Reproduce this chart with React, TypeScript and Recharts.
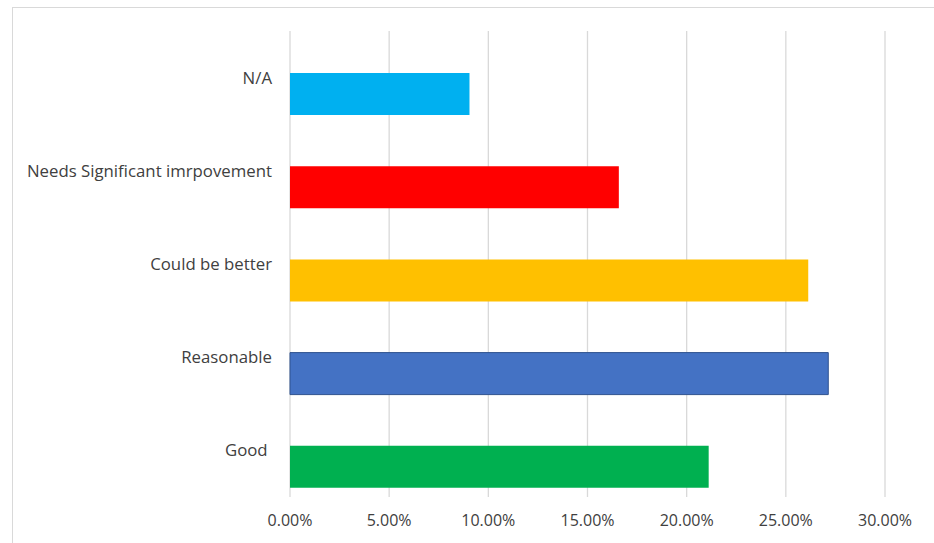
import React from "react";
import { BarChart, Bar, XAxis, YAxis, CartesianGrid, Cell } from "recharts";

// Survey responses (share of 199 respondents, %)
const categories = [
  "N/A",
  "Needs Significant imrpovement",
  "Could be better",
  "Reasonable",
  "Good ",
];
const shares = [9.05, 16.58, 26.13, 27.14, 21.11];
const barColors = ["#00B0F0", "#FF0000", "#FFC000", "#4472C4", "#00B050"];
const barStrokes = ["none", "none", "none", "#2F528F", "none"];
const percentTicks = [0, 5, 10, 15, 20, 25, 30];

const data = categories.map((name, i) => ({ name, share: shares[i] }));

const FONT = "'Open Sans', sans-serif";
const TEXT = "#404040";
const GRID = "#D9D9D9";

export default function App() {
  return (
    <div
      style={{
        position: "fixed",
        left: 0,
        top: 0,
        width: 934,
        height: 543,
        overflow: "hidden",
        background: "#fff",
      }}
    >
      <div
        style={{
          position: "absolute",
          left: 12,
          top: 7,
          width: 1000,
          height: 600,
          border: `1px solid ${GRID}`,
        }}
      />
      <div style={{ position: "absolute", left: 0, top: 0 }}>
        <BarChart
          width={934}
          height={543}
          data={data}
          layout="vertical"
          margin={{ top: 31, right: 49, bottom: 16, left: 0 }}
          barSize={42}
          barGap={-9}
        >
          <CartesianGrid horizontal={false} stroke={GRID} strokeWidth={1.3} />
          <XAxis
            type="number"
            domain={[0, 30]}
            ticks={percentTicks}
            tickFormatter={(v: number) => `${v.toFixed(2)}%`}
            axisLine={false}
            tickLine={false}
            tickSize={0}
            tickMargin={18}
            height={30}
            tick={{ fill: TEXT, fontSize: 16, fontFamily: FONT }}
          />
          <YAxis
            type="category"
            dataKey="name"
            width={290}
            axisLine={false}
            tickLine={false}
            tickSize={0}
            tickMargin={18}
            interval={0}
            tick={{ fill: TEXT, fontSize: 16.8, fontFamily: FONT, style: { whiteSpace: "pre" } }}
          />
          {/* empty companion series occupying the upper slot of each band */}
          <Bar dataKey="companion" isAnimationActive={false} />
          <Bar dataKey="share" isAnimationActive={false}>
            {data.map((d, i) => (
              <Cell key={d.name} fill={barColors[i]} stroke={barStrokes[i]} strokeWidth={1} />
            ))}
          </Bar>
        </BarChart>
      </div>
    </div>
  );
}
